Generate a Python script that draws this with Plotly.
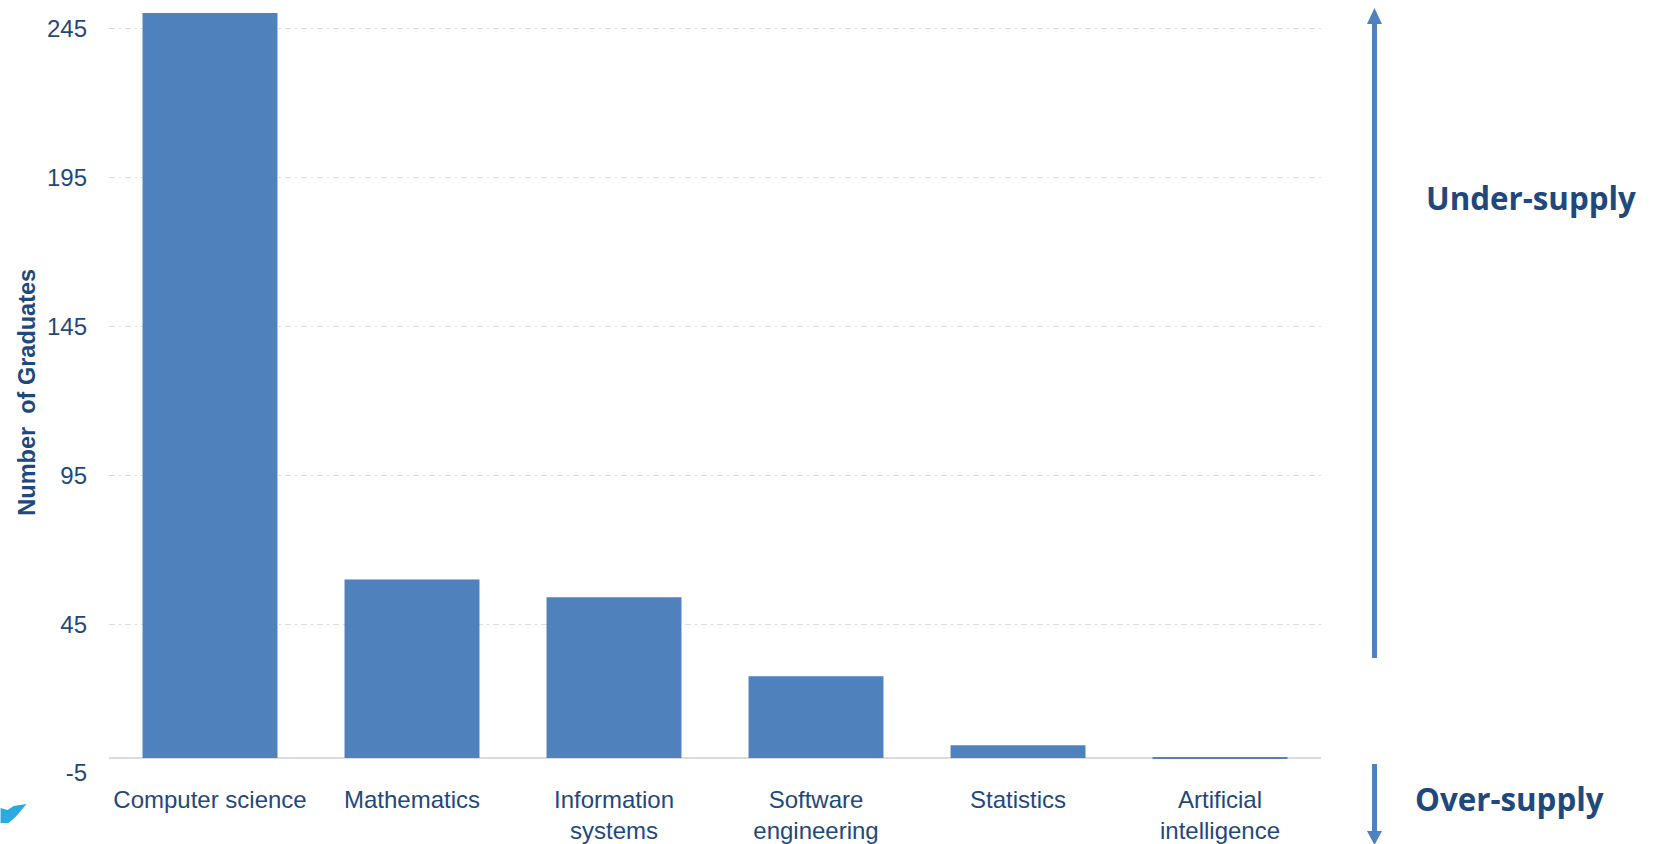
import plotly.graph_objects as go

categories = ["Computer science", "Mathematics", "Information<br>systems",
              "Software<br>engineering", "Statistics", "Artificial<br>intelligence"]
graduates = [250.3, 60, 54, 27.5, 4.3, 0.3]
y_ticks = [-5, 45, 95, 145, 195, 245]

W, H = 1657, 844
ML, MR, MT, MB = 108.5, 336, 5, 71
BLUE = "#4f81bd"
NAVY = "#1f497d"


def px(x):
    return (x - ML) / (W - ML - MR)


def py(y):
    return 1 - (y - MT) / (H - MT - MB)


fig = go.Figure(go.Bar(x=categories, y=graduates, marker=dict(color=BLUE, line=dict(width=0)), width=0.668))


def rect(x0, y0, x1, y1):
    return dict(type="rect", xref="paper", yref="paper", x0=px(x0), x1=px(x1), y0=py(y0), y1=py(y1),
                fillcolor=BLUE, line=dict(width=0), layer="above")


def path(points, color):
    d = "M " + " L ".join(f"{px(a):.5f},{py(b):.5f}" for a, b in points) + " Z"
    return dict(type="path", xref="paper", yref="paper", path=d, fillcolor=color, line=dict(width=0), layer="above")


shapes = [
    rect(1372, 22, 1377, 658),
    path([(1374.5, 8), (1382, 24), (1367, 24)], BLUE),
    rect(1372, 764, 1377, 832),
    path([(1374.5, 845), (1382, 831), (1367, 831)], BLUE),
    path([(0, 808), (7, 810), (13, 806), (26, 804), (15, 817), (8, 823), (0, 823)], "#29abe2"),
]

fig.update_layout(
    width=W, height=H,
    margin=dict(l=ML, r=MR, t=MT, b=MB, pad=0),
    paper_bgcolor="white", plot_bgcolor="white",
    showlegend=False,
    font=dict(family="Liberation Sans, Arial, sans-serif", color=NAVY, size=24),
    xaxis=dict(showgrid=False, showline=False, ticks="", tickfont=dict(size=24, color=NAVY), tickangle=0,
               automargin=False, ticklabelstandoff=10),
    yaxis=dict(range=[-5, 253], tickvals=y_ticks, ticktext=[str(v) for v in y_ticks],
               tickfont=dict(size=24, color=NAVY), showline=False, ticks="", automargin=False,
               ticklabelstandoff=21,
               showgrid=True, gridcolor="#dcdcdc", griddash="6px,4px,2px,4px", gridwidth=1,
               zeroline=True, zerolinecolor="#dcdcdc", zerolinewidth=2,
               title=dict(text="<b>Number  of Graduates&nbsp;</b>", font=dict(size=23.5, color=NAVY), standoff=4)),
    shapes=shapes,
    annotations=[
        dict(text="<b>Under-supply</b>", xref="paper", yref="paper", x=px(1531), y=py(198), showarrow=False,
             xanchor="center", yanchor="middle", font=dict(family="Open Sans, sans-serif", size=31.3, color=NAVY)),
        dict(text="<b>Over-supply</b>", xref="paper", yref="paper", x=px(1510), y=py(799), showarrow=False,
             xanchor="center", yanchor="middle", font=dict(family="Open Sans, sans-serif", size=31.3, color=NAVY)),
    ],
)
fig.write_html("out.html", post_script="document.body.style.margin='0';", config=dict(displayModeBar=False))
